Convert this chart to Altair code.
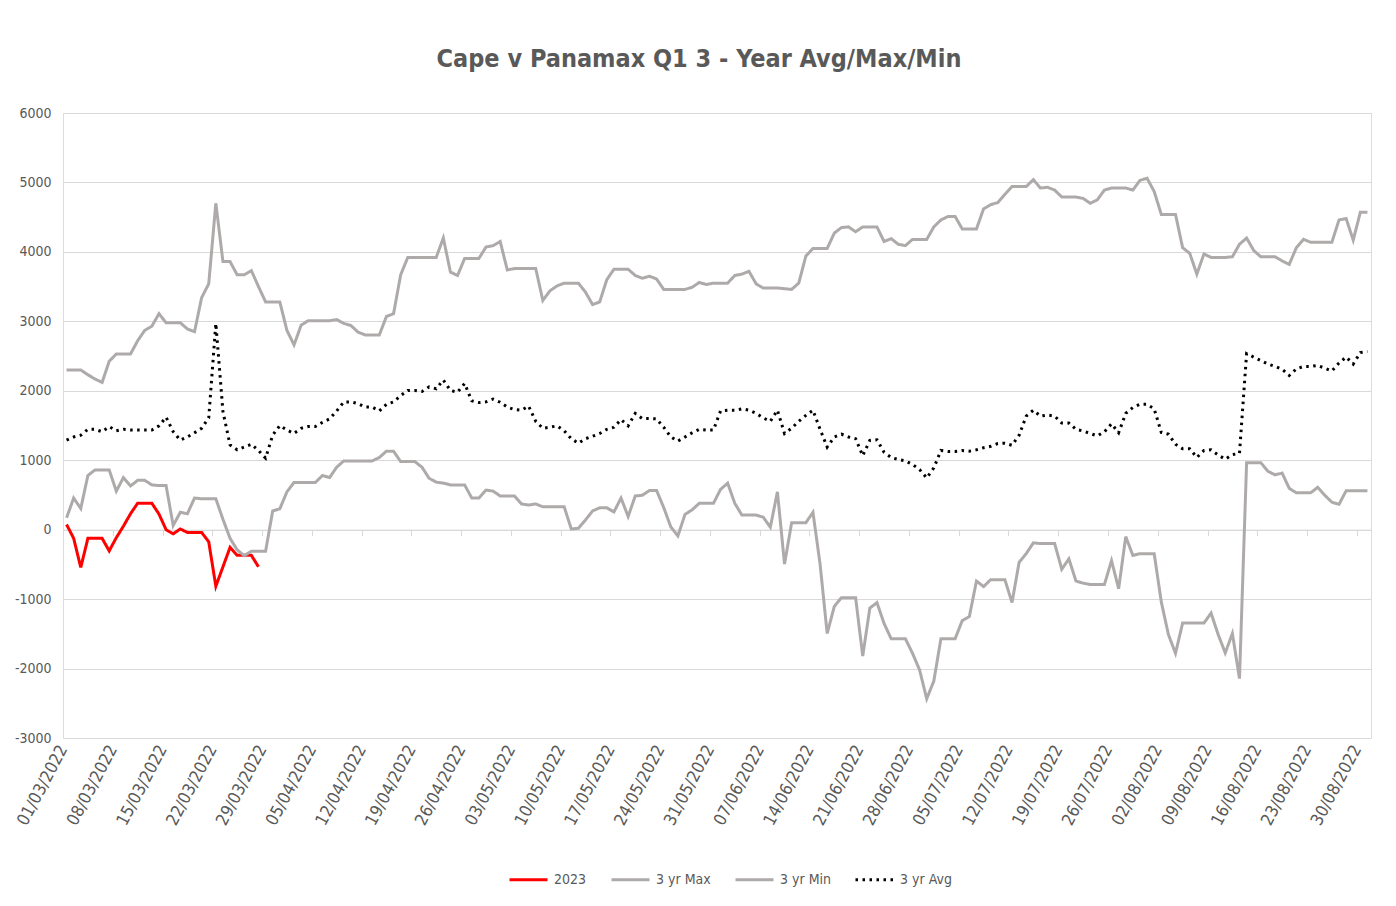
import altair as alt
import pandas as pd

# ---- data ----
dates = pd.date_range("2022-03-01", "2022-08-31", freq="D").strftime("%Y-%m-%d").tolist()

series_names = ["2023", "3 yr Max", "3 yr Min", "3 yr Avg"]

y2023 = [75, -125, -545, -125, -125, -125, -305, -115, 50, 230, 380, 380, 380, 225, 0,
         -60, 10, -40, -40, -40, -175, -815, -535, -255, -370, -370, -370, -535]

ymax = [2300, 2300, 2300, 2230, 2170, 2120, 2425, 2530, 2530, 2530, 2720, 2870, 2930, 3110, 2980,
        2980, 2980, 2890, 2850, 3340, 3540, 4700, 3860, 3860, 3670, 3670, 3730, 3500, 3280, 3280,
        3280, 2870, 2660, 2945, 3010, 3010, 3010, 3010, 3025, 2970, 2940, 2845, 2805, 2805, 2805,
        3070, 3110, 3670, 3920, 3920, 3920, 3920, 3920, 4200, 3710, 3660, 3905, 3905, 3905, 4070,
        4090, 4150, 3740, 3760, 3760, 3760, 3760, 3300, 3440, 3510, 3550, 3550, 3550, 3420, 3240,
        3280, 3600, 3750, 3750, 3750, 3660, 3620, 3650, 3610, 3460, 3460, 3460, 3460, 3490, 3560,
        3530, 3550, 3550, 3550, 3660, 3680, 3720, 3540, 3480, 3480, 3480, 3470, 3460, 3550, 3940,
        4050, 4050, 4050, 4270, 4350, 4360, 4290, 4360, 4360, 4360, 4150, 4190, 4110, 4090, 4180,
        4180, 4180, 4360, 4460, 4510, 4510, 4330, 4330, 4330, 4620, 4680, 4710, 4830, 4940, 4940,
        4940, 5040, 4920, 4930, 4890, 4790, 4790, 4790, 4770, 4700, 4750, 4890, 4920, 4920, 4920,
        4890, 5030, 5060, 4870, 4540, 4540, 4540, 4060, 3980, 3680, 3970, 3920, 3920, 3920, 3930,
        4110, 4200, 4020, 3930, 3930, 3930, 3870, 3820, 4060, 4180, 4140, 4140, 4140, 4140, 4460,
        4480, 4170, 4570, 4570]

ymin = [170, 455, 305, 780, 860, 860, 860, 555, 750, 630, 710, 710, 645, 635, 635,
        60, 250, 230, 455, 445, 445, 445, 150, -125, -290, -375, -310, -310, -310, 270,
        300, 545, 680, 680, 680, 680, 780, 750, 900, 990, 990, 990, 990, 990, 1040,
        1130, 1130, 980, 980, 980, 900, 740, 685, 670, 645, 645, 645, 455, 455, 570,
        555, 485, 485, 485, 370, 355, 370, 330, 330, 330, 330, 10, 20, 140, 270,
        315, 315, 255, 455, 190, 485, 495, 565, 565, 320, 40, -90, 220, 285, 380,
        380, 380, 580, 670, 380, 210, 210, 210, 180, 35, 545, -495, 100, 100, 100,
        250, -495, -1495, -1105, -980, -980, -980, -1820, -1130, -1050, -1350, -1570, -1570, -1570, -1780,
        -2020, -2435, -2180, -1570, -1570, -1570, -1310, -1250, -740, -820, -720, -720, -720, -1050, -470,
        -345, -190, -200, -200, -200, -570, -420, -740, -770, -790, -790, -790, -445, -850, -100,
        -370, -345, -345, -345, -1040, -1510, -1780, -1345, -1345, -1345, -1345, -1200, -1510, -1775, -1495,
        -2145, 965, 965, 965, 840, 790, 815, 595, 530, 530, 530, 610, 495, 395, 365,
        560, 560, 560, 560]

yavg = [1290, 1335, 1360, 1445, 1445, 1410, 1485, 1425, 1445, 1435, 1435, 1435, 1435, 1495, 1620,
        1410, 1290, 1335, 1395, 1460, 1610, 2970, 1700, 1220, 1150, 1190, 1230, 1140, 1030, 1360,
        1500, 1435, 1385, 1460, 1485, 1485, 1545, 1595, 1710, 1840, 1840, 1815, 1765, 1765, 1710,
        1805, 1840, 1930, 2005, 2005, 1990, 2055, 2030, 2155, 2005, 1980, 2105, 1855, 1830, 1840,
        1880, 1835, 1765, 1730, 1720, 1780, 1560, 1460, 1475, 1495, 1425, 1310, 1245, 1310, 1345,
        1385, 1445, 1475, 1585, 1495, 1675, 1600, 1600, 1595, 1475, 1335, 1275, 1335, 1395, 1445,
        1435, 1435, 1710, 1720, 1720, 1740, 1720, 1675, 1610, 1560, 1720, 1385, 1460, 1560, 1645,
        1720, 1445, 1190, 1335, 1375, 1335, 1310, 1065, 1285, 1295, 1115, 1040, 1010, 990, 940,
        865, 745, 890, 1140, 1125, 1125, 1140, 1130, 1150, 1180, 1200, 1240, 1245, 1215, 1360,
        1635, 1720, 1635, 1650, 1635, 1535, 1535, 1445, 1420, 1385, 1350, 1410, 1525, 1395, 1675,
        1760, 1805, 1805, 1740, 1400, 1375, 1230, 1165, 1165, 1040, 1140, 1150, 1075, 1015, 1080,
        1100, 2535, 2485, 2435, 2385, 2350, 2310, 2220, 2315, 2350, 2350, 2365, 2325, 2285, 2400,
        2485, 2385, 2550, 2565]

tick_dates = dates[::7]  # 01/03, 08/03, ... 30/08

rows = []
for name, vals in zip(series_names, [y2023, ymax, ymin, yavg]):
    for d, v in zip(dates, vals):
        rows.append({"date": d, "value": v, "series": name})
df = pd.DataFrame(rows)

FONT = "DejaVu Sans Condensed, Lato, sans-serif"
TXT = "#595959"
GRID = "#d9d9d9"


def dt(s):
    y, m, d = (int(p) for p in s.split("-"))
    return alt.DateTime(year=y, month=m, date=d, utc=True)


x_scale = alt.Scale(type="utc", domain=[dt("2022-03-01"), dt("2022-09-01")])
y_scale = alt.Scale(domain=[-3000, 6000], nice=False, zero=False)

y_axis = alt.Axis(values=list(range(-3000, 6001, 1000)), labelExpr="'' + datum.value",
                  labelFont=FONT, labelFontSize=14, labelColor=TXT,
                  domain=False, ticks=False, gridColor=GRID, labelPadding=12,
                  title=None)

color_scale = alt.Scale(domain=series_names,
                        range=["#FF0000", "#AEAAAA", "#AEAAAA", "#000000"])
dash_scale = alt.Scale(domain=series_names,
                       range=[[1, 0], [1, 0], [1, 0], [2.5, 4.5]])

legend = alt.Legend(title=None, orient="none", legendX=445, legendY=746,
                    direction="horizontal", symbolType="stroke", symbolSize=1444,
                    symbolStrokeWidth=3, labelFont=FONT, labelFontSize=14,
                    labelColor=TXT, columnPadding=18, labelOffset=5)

lines = alt.Chart(df).mark_line(strokeWidth=3, strokeCap="butt").encode(
    x=alt.X("date:T", timeUnit="utcyearmonthdate", bandPosition=0.5, scale=x_scale,
            axis=alt.Axis(orient="bottom", values=[dt(s) for s in tick_dates],
                          format="%d/%m/%Y", labelAngle=-62, labelAlign="right",
                          labelBaseline="middle", labelFont=FONT,
                          labelFontSize=17, labelColor=TXT, labelOverlap=False,
                          domain=False, ticks=False, grid=False,
                          labelPadding=8, title=None)),
    y=alt.Y("value:Q", scale=y_scale, axis=y_axis),
    color=alt.Color("series:N", scale=color_scale, legend=legend, sort=series_names),
    strokeDash=alt.StrokeDash("series:N", scale=dash_scale, legend=legend, sort=series_names),
    order=alt.Order("date:T"),
)

# axis line with tick marks sitting on the zero line (Excel style)
zero_axis = alt.Chart(df).mark_line(opacity=0).encode(
    x=alt.X("date:T", timeUnit="utcyearmonthdate", bandPosition=0.5, scale=x_scale,
            axis=alt.Axis(orient="bottom", values=[dt(s) for s in tick_dates],
                          labels=False, labelOverlap=False,
                          domain=True, domainColor=GRID, ticks=True, tickColor=GRID,
                          tickSize=6, grid=False, offset=-208.33, title=None)),
    y=alt.Y("value:Q", scale=y_scale, axis=y_axis),
)

chart = alt.layer(lines, zero_axis).resolve_axis(x="independent").properties(
    width=1308, height=625,
    autosize=alt.AutoSizeParams(type="none"),
    padding={"left": 55, "top": 105, "right": 17, "bottom": 160},
    title=alt.Title("Cape v Panamax Q1  3 - Year Avg/Max/Min", font=FONT, fontSize=25,
                    fontWeight="bold", color=TXT, anchor="middle", dx=-18, offset=34),
).configure_view(stroke=None).configure(background="white")

chart.save("out.html", embed_options={"renderer": "svg", "actions": False})
